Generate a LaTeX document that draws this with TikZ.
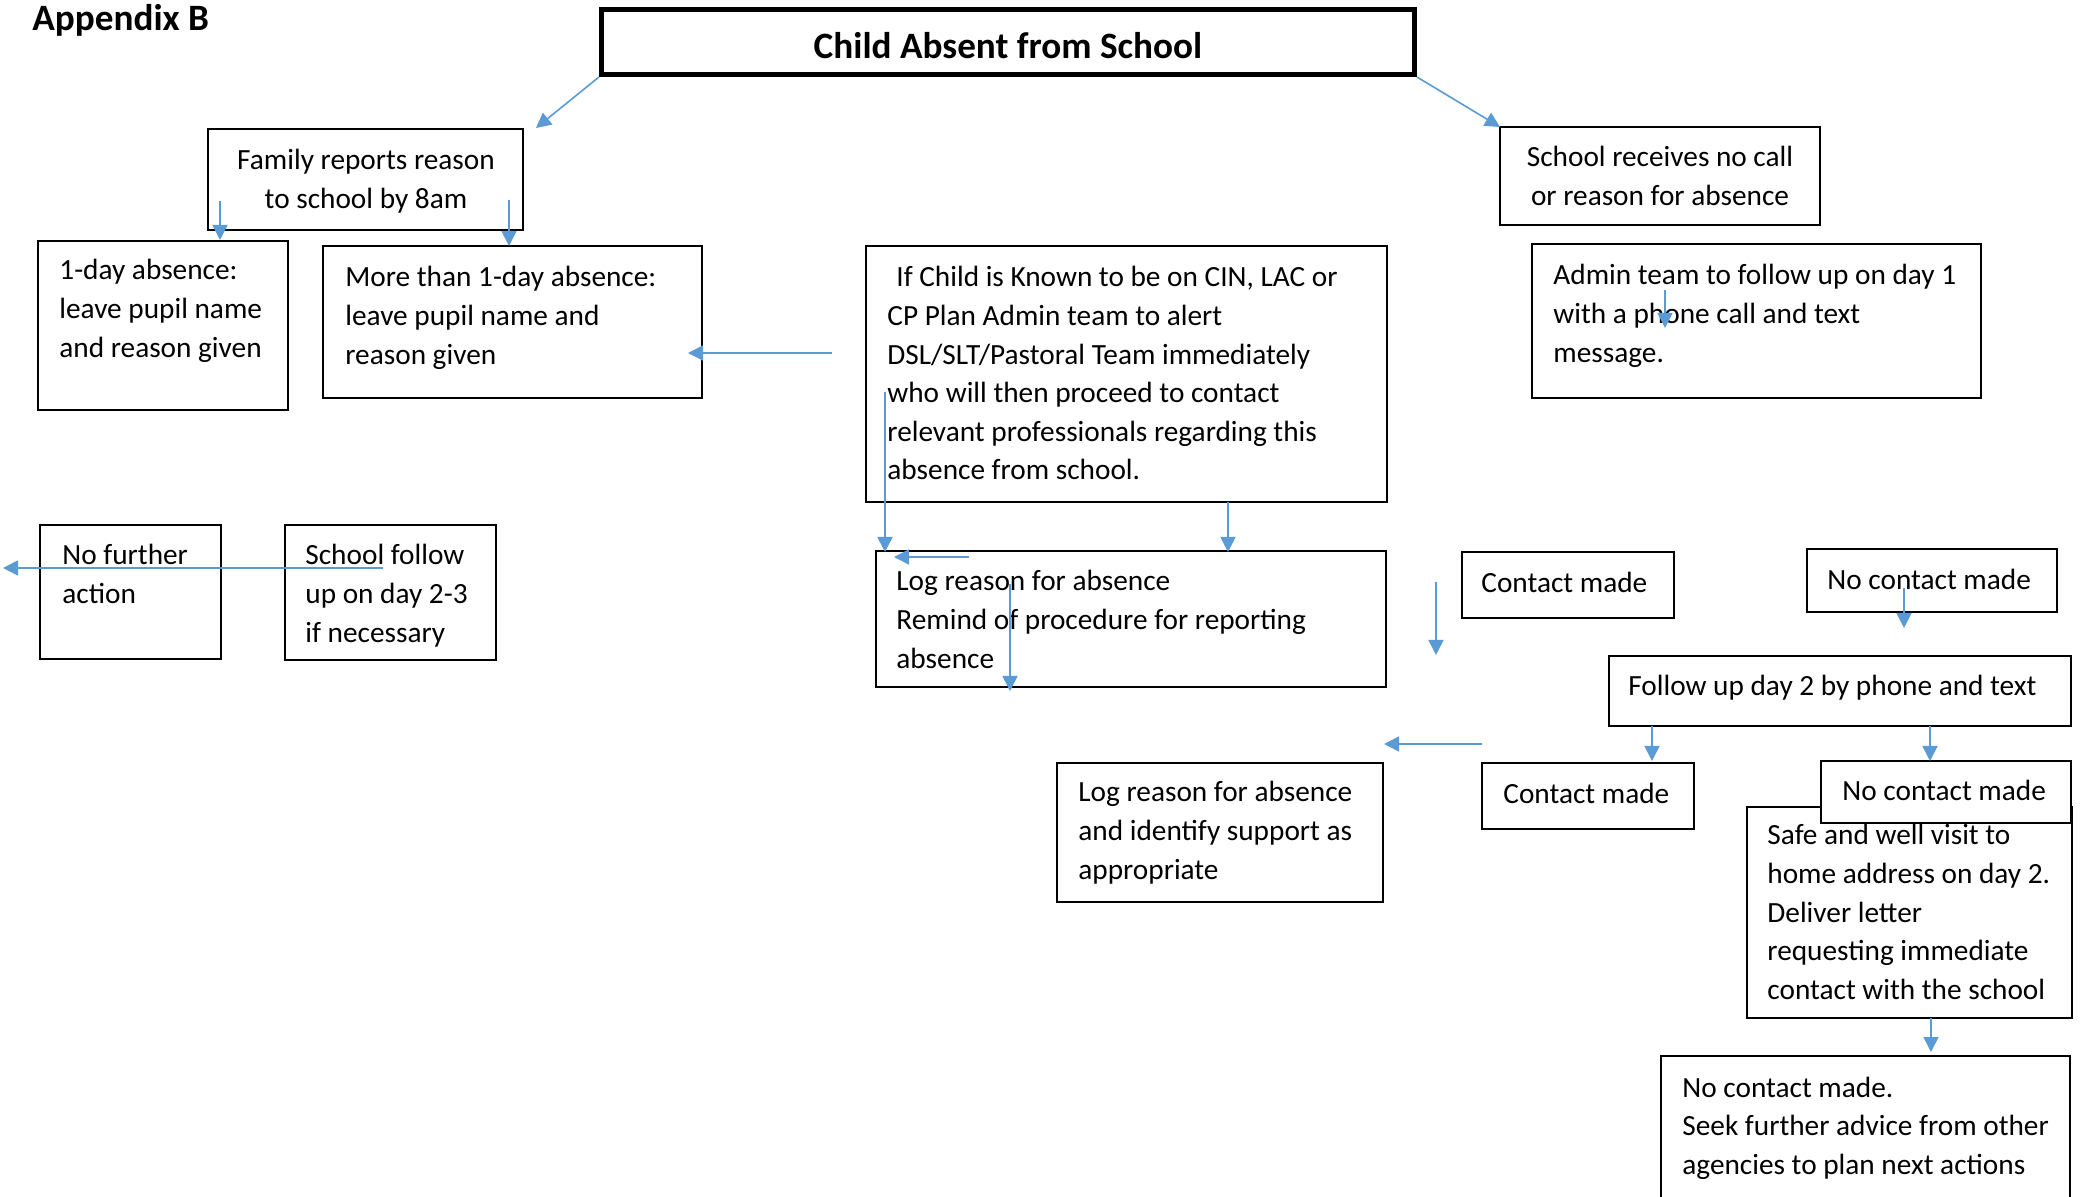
\documentclass[tikz,border=0pt]{standalone}
\usepackage{fontspec}
\setmainfont{Carlito}
\usetikzlibrary{arrows.meta,fit}
\definecolor{arrowblue}{HTML}{5B9BD5}
\newcommand\bodyfont{\fontsize{14.65pt}{19.3pt}\selectfont}
\newcommand\headfont{\fontsize{18.6pt}{22pt}\selectfont\bfseries}
\newcommand\mlL[1]{\begin{tabular}[t]{@{}l@{}}#1\end{tabular}}
\newcommand\mlC[1]{\begin{tabular}[t]{@{}c@{}}#1\end{tabular}}
\begin{document}
\begin{tikzpicture}[x=0.5pt,y=-0.5pt,
  box/.style={draw=black, line width=1.1pt, inner sep=0pt, fill=white},
  titlebox/.style={draw=black, line width=2.6pt, inner sep=0pt, fill=white},
  txt/.style={inner sep=0pt, font=\bodyfont, anchor=base west, yshift=-1pt},
  ctxt/.style={inner sep=0pt, font=\bodyfont, anchor=base, yshift=-1pt},
  head/.style={inner sep=0pt, font=\headfont, yshift=-0.8pt},
  arr/.style={draw=arrowblue, line width=0.8pt, -{Triangle[length=7.5pt,width=7.5pt]}}]
\useasboundingbox (0,0) rectangle (2085,1197);
\fill[white] (0,0) rectangle (2085,1197);
\clip (0,0) rectangle (2085,1197);

% boxes
\node[titlebox, fit={(601.5,9.5)(1414.5,74.5)}] (title) {};
\node[box, fit={(208,129)(523,230)}] (family) {};
\node[box, fit={(38,241)(288,410)}] (oneday) {};
\node[box, fit={(323,246)(702,398)}] (more) {};
\node[box, fit={(866,246)(1387,502)}] (cin) {};
\node[box, fit={(1500,127)(1820,225)}] (nocall) {};
\node[box, fit={(1532,244)(1981,398)}] (admin) {};
\node[box, fit={(40,525)(221,659)}] (nofurther) {};
\node[box, fit={(285,525)(496,660)}] (follow23) {};
\node[box, fit={(876,551)(1386,687)}] (logone) {};
\node[box, fit={(1462,552)(1674,618)}] (contactone) {};
\node[box, fit={(1807,549)(2057,612)}] (nocontactone) {};
\node[box, fit={(1609,656)(2071,726)}] (daytwo) {};
\node[box, fit={(1057,763)(1383,902)}] (logtwo) {};
\node[box, fit={(1482,763)(1694,829)}] (contacttwo) {};
\node[box, fit={(1747,807)(2072,1018)}] (safe) {};
\node[box, fit={(1821,761)(2071,823)}] (nocontacttwo) {};
\node[box, fit={(1661,1056)(2070,1215)}] (final) {};

% texts
\node[head, anchor=base west] (appendix) at (32,29) {Appendix B};
\node[head, anchor=base] (titletext) at (1008,57) {Child Absent from School};
\node[ctxt] (familyT) at (366,168) {\mlC{Family reports reason\\to school by 8am}};
\node[txt] (onedayT) at (59,278) {\mlL{1-day absence:\\leave pupil name\\and reason given}};
\node[txt] (moreT) at (345,285) {\mlL{More than 1-day absence:\\leave pupil name and\\reason given}};
\node[txt] (cinT) at (887,285) {\mlL{\hspace{4.5pt}If Child is Known to be on CIN, LAC or\\CP Plan Admin team to alert\\DSL/SLT/Pastoral Team immediately\\who will then proceed to contact\\relevant professionals regarding this\\absence from school.}};
\node[ctxt] (nocallT) at (1660,165) {\mlC{School receives no call\\or reason for absence}};
\node[txt] (adminT) at (1553,283) {\mlL{Admin team to follow up on day 1\\with a phone call and text\\message.}};
\node[txt] (nofurtherT) at (62,563) {\mlL{No further\\action}};
\node[txt] (follow23T) at (305,563) {\mlL{School follow\\up on day 2-3\\if necessary}};
\node[txt] (logoneT) at (896,589) {\mlL{Log reason for absence\\Remind of procedure for reporting\\absence}};
\node[txt] (contactoneT) at (1481,591) {Contact made};
\node[txt] (nocontactoneT) at (1827,588) {No contact made};
\node[txt] (daytwoT) at (1628,694) {Follow up day 2 by phone and text};
\node[txt] (logtwoT) at (1078,800) {\mlL{Log reason for absence\\and identify support as\\appropriate}};
\node[txt] (contacttwoT) at (1503,802) {Contact made};
\node[txt] (nocontacttwoT) at (1842,799) {No contact made};
\node[txt] (safeT) at (1767,843) {\mlL{Safe and well visit to\\home address on day 2.\\Deliver letter\\requesting immediate\\contact with the school}};
\node[txt] (finalT) at (1682,1095) {\mlL{No contact made.\\Seek further advice from other\\agencies to plan next actions}};

% connector end points
\coordinate (a1e) at (536,128);
\coordinate (a2e) at (1500,127);
\coordinate (a3s) at (220,201);  \coordinate (a3e) at (220,240);
\coordinate (a4s) at (509,200);  \coordinate (a4e) at (509,246);
\coordinate (a5s) at (832,353);  \coordinate (a5e) at (688,353);
\coordinate (a6s) at (1665,290); \coordinate (a6e) at (1665,328);
\coordinate (a7s) at (885,392);  \coordinate (a7e) at (885,552);
\coordinate (a8s) at (1228,502); \coordinate (a8e) at (1228,552);
\coordinate (a9s) at (969,557);  \coordinate (a9e) at (894,557);
\coordinate (a10s) at (1010,584); \coordinate (a10e) at (1010,691);
\coordinate (a11s) at (1436,582); \coordinate (a11e) at (1436,655);
\coordinate (a12s) at (1904,588); \coordinate (a12e) at (1904,628);
\coordinate (a13s) at (1652,726); \coordinate (a13e) at (1652,761);
\coordinate (a14s) at (1930,726); \coordinate (a14e) at (1930,761);
\coordinate (a15s) at (1482,744); \coordinate (a15e) at (1384,744);
\coordinate (a16s) at (1931,1018); \coordinate (a16e) at (1931,1052);
\coordinate (a17s) at (383,568); \coordinate (a17e) at (3,568);

% connectors
\draw[arr] (title.south west) -- (a1e);
\draw[arr] (title.south east) -- (a2e);
\draw[arr] (a3s) -- (a3e);
\draw[arr] (a4s) -- (a4e);
\draw[arr] (a5s) -- (a5e);
\draw[arr] (a6s) -- (a6e);
\draw[arr] (a7s) -- (a7e);
\draw[arr] (a8s) -- (a8e);
\draw[arr] (a9s) -- (a9e);
\draw[arr] (a10s) -- (a10e);
\draw[arr] (a11s) -- (a11e);
\draw[arr] (a12s) -- (a12e);
\draw[arr] (a13s) -- (a13e);
\draw[arr] (a14s) -- (a14e);
\draw[arr] (a15s) -- (a15e);
\draw[arr] (a16s) -- (a16e);
\draw[arr] (a17s) -- (a17e);
\end{tikzpicture}
\end{document}
